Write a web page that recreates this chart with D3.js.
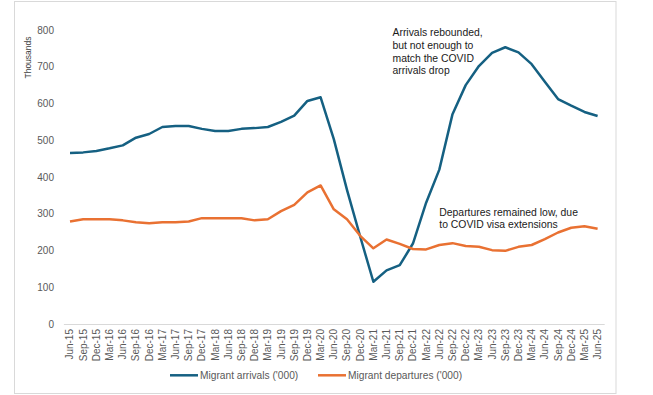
<!DOCTYPE html>
<html>
<head>
<meta charset="utf-8">
<script src="https://cdn.jsdelivr.net/npm/d3@7"></script>
<style>
  body { margin: 0; background: #fff; }
  text { font-family: "Liberation Sans", Arial, sans-serif; }
</style>
</head>
<body>
<div id="chart"></div>
<script>
const width = 653;
const height = 395;

const quarters = [
    "Jun-15", "Sep-15", "Dec-15", "Mar-16", "Jun-16", "Sep-16", "Dec-16", "Mar-17",
    "Jun-17", "Sep-17", "Dec-17", "Mar-18", "Jun-18", "Sep-18", "Dec-18", "Mar-19",
    "Jun-19", "Sep-19", "Dec-19", "Mar-20", "Jun-20", "Sep-20", "Dec-20", "Mar-21",
    "Jun-21", "Sep-21", "Dec-21", "Mar-22", "Jun-22", "Sep-22", "Dec-22", "Mar-23",
    "Jun-23", "Sep-23", "Dec-23", "Mar-24", "Jun-24", "Sep-24", "Dec-24", "Mar-25",
    "Jun-25"
];

const arrivals = [
    465, 467, 471, 478, 486, 507, 517, 536, 539, 539, 531, 525, 525, 531, 533, 536,
    550, 567, 607, 617, 503, 365, 238, 115, 146, 160, 219, 330, 420, 571, 650, 702,
    738, 753, 739, 707, 659, 612, 594, 577, 566
];

const departures = [
    279, 285, 285, 285, 282, 277, 274, 277, 277, 279, 288, 288, 288, 288, 282, 285,
    307, 324, 358, 377, 312, 285, 240, 206, 230, 218, 204, 203, 215, 220, 212, 210,
    201, 199, 210, 215, 231, 249, 262, 266, 259
];

const yTicks = [0, 100, 200, 300, 400, 500, 600, 700, 800];

const seriesNames = ["Migrant arrivals ('000)", "Migrant departures ('000)"];
const seriesColors = ["#156082", "#E97132"];

const noteArrivals = ["Arrivals rebounded,", "but not enough to", "match the COVID", "arrivals drop"];
const noteDepartures = ["Departures remained low, due", "to COVID visa extensions"];

const svg = d3.select("#chart")
    .append("svg")
    .attr("width", width)
    .attr("height", height);

// chart area border
svg.append("rect")
    .attr("x", 14.5)
    .attr("y", 1.5)
    .attr("width", 601.5)
    .attr("height", 392)
    .attr("fill", "#fff")
    .attr("stroke", "#d9d9d9");

const x = d3.scaleBand()
    .domain(quarters)
    .range([63.4, 604.2]);

const y = d3.scaleLinear()
    .domain([0, 800])
    .range([324, 30]);

const cx = d => x(d) + x.bandwidth() / 2;

// y axis
const yAxis = svg.append("g")
    .attr("transform", "translate(64, 0)")
    .call(d3.axisLeft(y).tickValues(yTicks).tickSize(0).tickPadding(10));
yAxis.select(".domain").remove();
yAxis.selectAll("text")
    .attr("fill", "#595959")
    .style("font-size", "10px");

svg.append("text")
    .attr("transform", "translate(30.5, 57.5) rotate(-90)")
    .attr("text-anchor", "middle")
    .attr("fill", "#404040")
    .style("font-size", "8.5px")
    .text("Thousands");

// x axis
const xAxis = svg.append("g")
    .attr("transform", "translate(0, 324)")
    .call(d3.axisBottom(x).tickSize(0).tickSizeOuter(0));
xAxis.select(".domain").attr("stroke", "#d9d9d9");
xAxis.selectAll("text")
    .attr("transform", "rotate(-90)")
    .attr("text-anchor", "end")
    .attr("x", -5)
    .attr("y", 0)
    .attr("dy", "0.35em")
    .attr("fill", "#595959")
    .style("font-size", "10px");

// lines
const line = d3.line()
    .x((d, i) => cx(quarters[i]))
    .y(d => y(d));

[arrivals, departures].forEach((series, k) => {
    svg.append("path")
        .datum(series)
        .attr("fill", "none")
        .attr("stroke", seriesColors[k])
        .attr("stroke-width", 2.5)
        .attr("stroke-linejoin", "round")
        .attr("d", line);
});

// annotations
svg.append("text")
    .attr("x", 392.5)
    .attr("y", 36)
    .attr("fill", "#1a1a1a")
    .style("font-size", "10.4px")
    .selectAll("tspan")
    .data(noteArrivals)
    .enter().append("tspan")
    .attr("x", 392.5)
    .attr("dy", (d, i) => i === 0 ? 0 : 12.8)
    .text(d => d);

svg.append("text")
    .attr("x", 439.3)
    .attr("y", 216)
    .attr("fill", "#1a1a1a")
    .style("font-size", "10.4px")
    .selectAll("tspan")
    .data(noteDepartures)
    .enter().append("tspan")
    .attr("x", 439.3)
    .attr("dy", (d, i) => i === 0 ? 0 : 12.2)
    .text(d => d);

// legend
const legendX = [170, 318];
const legend = svg.append("g");
seriesNames.forEach((name, k) => {
    legend.append("line")
        .attr("x1", legendX[k])
        .attr("x2", legendX[k] + 28)
        .attr("y1", 375.3)
        .attr("y2", 375.3)
        .attr("stroke", seriesColors[k])
        .attr("stroke-width", 2.5);
    legend.append("text")
        .attr("x", legendX[k] + 30)
        .attr("y", 375.3)
        .attr("dy", "0.35em")
        .attr("fill", "#595959")
        .style("font-size", "10.2px")
        .text(name);
});
</script>
</body>
</html>
